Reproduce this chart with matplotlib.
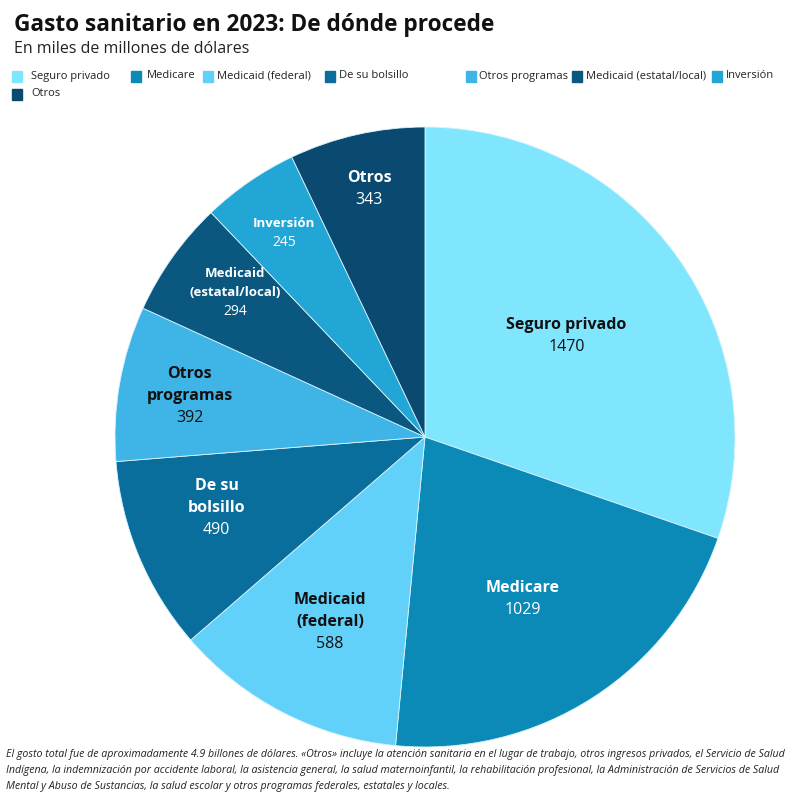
import numpy as np
import matplotlib.pyplot as plt
from matplotlib.patches import Rectangle

categories = ['Seguro privado', 'Medicare', 'Medicaid (federal)', 'De su bolsillo',
              'Otros programas', 'Medicaid (estatal/local)', 'Inversión', 'Otros']
slice_labels = ['Seguro privado', 'Medicare', 'Medicaid\n(federal)', 'De su\nbolsillo',
                'Otros\nprogramas', 'Medicaid\n(estatal/local)', 'Inversión', 'Otros']
values = [1470, 1029, 588, 490, 392, 294, 245, 343]

colors = ['#80e6fe', '#0b8ab8', '#62d1fa', '#0a6e9c', '#3fb4e6', '#0a5880', '#22a6d6', '#0a4a70']
text_colors = ['#111111', 'white', '#111111', 'white', '#111111', 'white', 'white', 'white']
# label placement: fraction of radius, and small angle shift off the wedge middle (deg)
label_r = [0.56, 0.61, 0.67, 0.71, 0.77, 0.77, 0.80, 0.82]
label_shift = [0, -1.5, 0, -3.8, 0, -1.8, 0, 0]

plt.rcParams['font.family'] = ['Open Sans', 'DejaVu Sans']

R = 310  # pie radius in px
fig = plt.figure(figsize=(8, 8), dpi=100)
ax = fig.add_axes([(425 - R) / 800, 1 - (437 + R) / 800, 2 * R / 800, 2 * R / 800])

wedges, _ = ax.pie(values, colors=colors, startangle=90, counterclock=False,
                   wedgeprops=dict(edgecolor='#d8f3fb', linewidth=0.6))
ax.set_xlim(-1, 1)
ax.set_ylim(-1, 1)
ax.set_aspect('equal')
ax.axis('off')

for w, lab, v, tc, r, sh in zip(wedges, slice_labels, values, text_colors, label_r, label_shift):
    ang = np.deg2rad((w.theta1 + w.theta2) / 2 + sh)
    x, y = r * np.cos(ang), r * np.sin(ang)
    small = lab in ('Inversión', 'Medicaid\n(estatal/local)')
    fs = 9.5 if small else 11.5
    vfs = 10 if small else 11.5
    lh = (19 if small else 22) / R
    lines = lab.split('\n')
    n = len(lines) + 1
    for i, t in enumerate(lines):
        ax.text(x, y + ((n - 1) / 2 - i) * lh, t, ha='center', va='center', fontsize=fs,
                fontweight='bold', color=tc)
    ax.text(x, y - (n - 1) / 2 * lh, str(v), ha='center', va='center', fontsize=vfs, color=tc)

# title and subtitle
fig.text(14 / 800, 1 - 31 / 800, 'Gasto sanitario en 2023: De dónde procede', fontsize=16.3,
         fontweight='bold', color='#111111', va='baseline')
fig.text(14 / 800, 1 - 53 / 800, 'En miles de millones de dólares', fontsize=11.5,
         color='#222222', va='baseline')

# legend
sq_x = [12, 131, 203, 325, 466, 572, 712, 12]
txt_x = [31, 147, 217, 339, 479, 586, 726, 31]
leg_y = [76, 76, 76, 76, 76, 76, 76, 94]
for sx, tx, ly, c, name in zip(sq_x, txt_x, leg_y, colors, categories):
    fig.patches.append(Rectangle((sx / 800, 1 - (ly + 6) / 800), 10 / 800, 11 / 800,
                                 transform=fig.transFigure, color=c))
    fig.text(tx / 800, 1 - ly / 800, name, fontsize=8, color='#222222', va='center')

note = ('El gosto total fue de aproximadamente 4.9 billones de dólares. «Otros» incluye la atención sanitaria en el lugar de trabajo, otros ingresos privados, el Servicio de Salud\n'
        'Indígena, la indemnización por accidente laboral, la asistencia general, la salud maternoinfantil, la rehabilitación profesional, la Administración de Servicios de Salud\n'
        'Mental y Abuso de Sustancias, la salud escolar y otros programas federales, estatales y locales.')
fig.text(6 / 800, 1 - 749 / 800, note, fontsize=7.7, style='italic', color='#222222',
         va='top', linespacing=1.62)

fig.savefig('out.png', dpi=100, facecolor='white')
